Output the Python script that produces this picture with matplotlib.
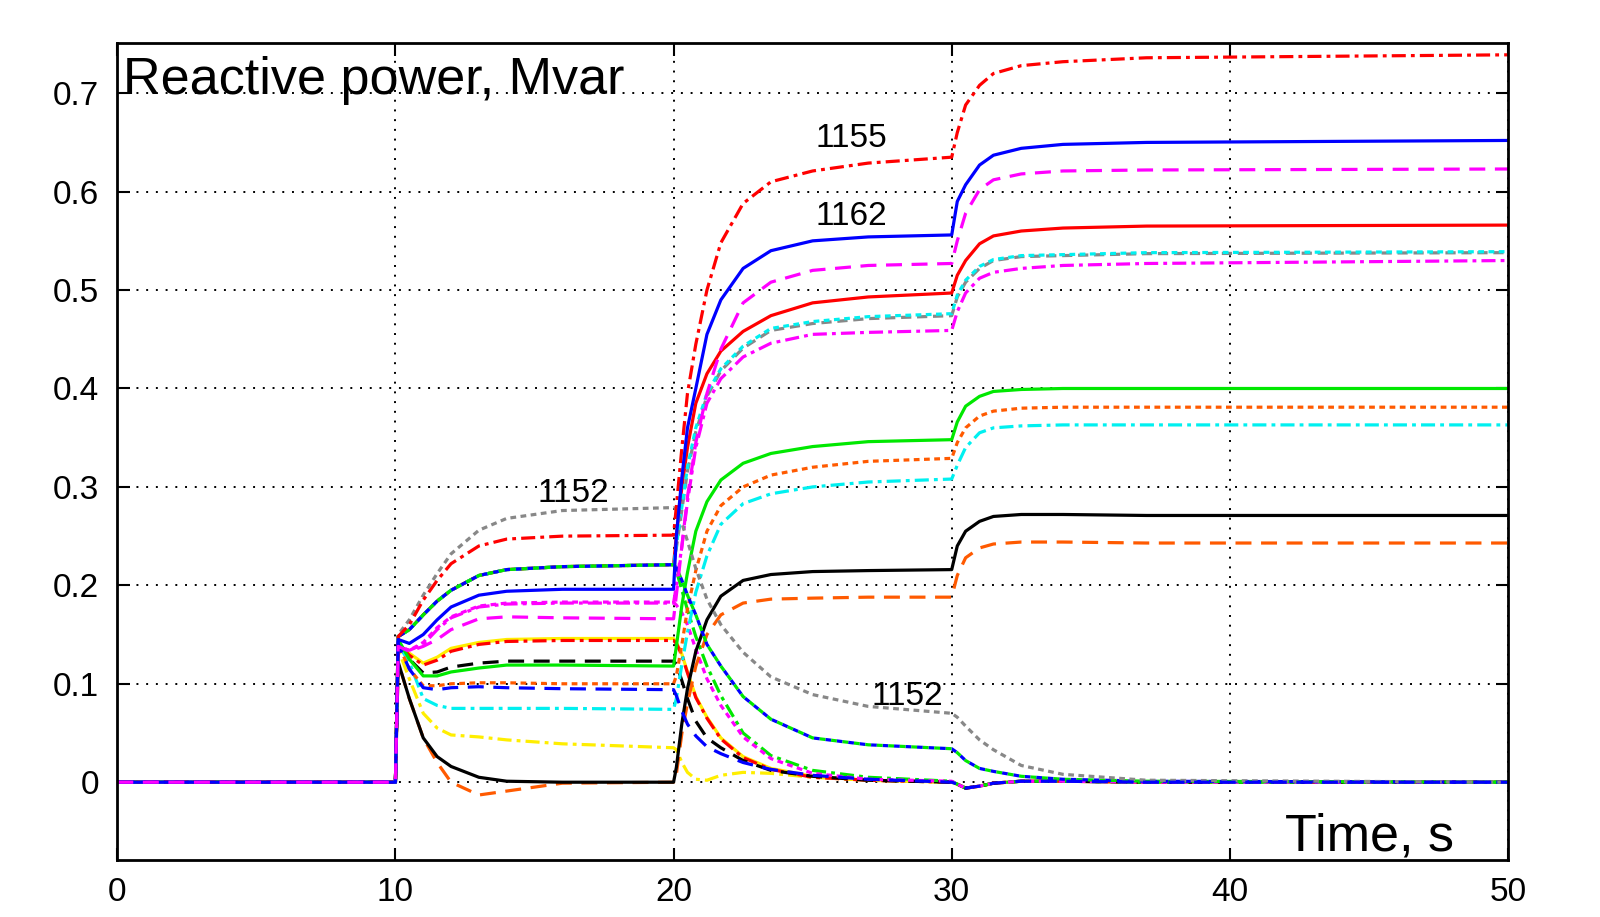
import matplotlib
matplotlib.use("Agg")
import matplotlib.pyplot as plt

plt.rcParams['font.family'] = ['Liberation Sans', 'DejaVu Sans']

# time grid, s
t = [0, 10, 10.1, 10.5, 11, 11.5, 12, 13, 14, 16, 20,
     20.1, 20.3, 20.5, 20.8, 21.2, 21.7, 22.5, 23.5, 25, 27, 30,
     30.2, 30.5, 31, 31.5, 32.5, 34, 37, 50]

# common pieces
cluster1 = [0, 0, 0.148, 0.155, 0.170, 0.184, 0.195, 0.210, 0.216, 0.219, 0.221]
tail_dip = [-0.002, -0.006, -0.004, -0.001, 0.001, 0.001, 0.0, 0.0]

# reactive power, Mvar
q_gray_dot = [0, 0, 0.150, 0.165, 0.190, 0.212, 0.232, 0.256, 0.268, 0.276, 0.279,
              0.277, 0.263, 0.245, 0.217, 0.186, 0.160, 0.132, 0.107, 0.089, 0.077, 0.070,
              0.066, 0.057, 0.043, 0.033, 0.017, 0.008, 0.002, 0.0]
q_red_dd = [0, 0, 0.148, 0.160, 0.185, 0.205, 0.222, 0.240, 0.247, 0.250, 0.251,
            0.280, 0.340, 0.395, 0.445, 0.500, 0.548, 0.588, 0.610, 0.621, 0.629, 0.635,
            0.660, 0.688, 0.708, 0.720, 0.728, 0.732, 0.736, 0.739]
q_blue = [0, 0, 0.145, 0.141, 0.150, 0.165, 0.178, 0.190, 0.194, 0.196, 0.196,
          0.250, 0.310, 0.360, 0.400, 0.455, 0.490, 0.522, 0.540, 0.550, 0.554, 0.556,
          0.590, 0.607, 0.627, 0.637, 0.644, 0.648, 0.650, 0.652]
q_mag_dash = [0, 0, 0.138, 0.133, 0.138, 0.145, 0.155, 0.166, 0.168, 0.167, 0.166,
              0.190, 0.240, 0.290, 0.345, 0.395, 0.440, 0.487, 0.508, 0.520, 0.525, 0.527,
              0.550, 0.578, 0.602, 0.612, 0.618, 0.621, 0.622, 0.623]
q_red = cluster1 + [0.250, 0.300, 0.340, 0.385, 0.415, 0.438, 0.458, 0.474, 0.487, 0.493, 0.497,
                    0.515, 0.530, 0.547, 0.555, 0.560, 0.563, 0.565, 0.566]
q_cyan_dash = cluster1 + [0.240, 0.280, 0.320, 0.360, 0.395, 0.420, 0.443, 0.461, 0.468, 0.473, 0.476,
                          0.495, 0.510, 0.524, 0.531, 0.535, 0.536, 0.538, 0.539]
q_gray_dash = cluster1 + [0.238, 0.277, 0.316, 0.356, 0.392, 0.418, 0.441, 0.459, 0.466, 0.471, 0.474,
                          0.493, 0.508, 0.522, 0.530, 0.534, 0.535, 0.537, 0.538]
q_mag_dd = [0, 0, 0.138, 0.134, 0.140, 0.155, 0.167, 0.178, 0.181, 0.182, 0.182,
            0.200, 0.240, 0.285, 0.340, 0.385, 0.410, 0.432, 0.446, 0.455, 0.457, 0.459,
            0.478, 0.497, 0.512, 0.518, 0.522, 0.525, 0.527, 0.530]
q_green = [0, 0, 0.145, 0.125, 0.108, 0.108, 0.112, 0.116, 0.119, 0.119, 0.118,
           0.138, 0.180, 0.213, 0.255, 0.285, 0.307, 0.324, 0.334, 0.341, 0.346, 0.348,
           0.366, 0.382, 0.392, 0.397, 0.399, 0.400, 0.400, 0.400]
q_orange_dot = [0, 0, 0.140, 0.115, 0.098, 0.098, 0.100, 0.101, 0.101, 0.100, 0.100,
                0.108, 0.140, 0.176, 0.215, 0.255, 0.281, 0.300, 0.312, 0.320, 0.326, 0.329,
                0.345, 0.360, 0.372, 0.377, 0.380, 0.381, 0.381, 0.381]
q_cyan_dd = [0, 0, 0.140, 0.122, 0.085, 0.078, 0.075, 0.075, 0.075, 0.075, 0.074,
             0.085, 0.120, 0.152, 0.193, 0.230, 0.262, 0.283, 0.293, 0.300, 0.305, 0.308,
             0.322, 0.340, 0.355, 0.360, 0.362, 0.363, 0.363, 0.363]
q_black = [0, 0, 0.122, 0.085, 0.045, 0.026, 0.016, 0.005, 0.001, 0.0, 0.0,
           0.015, 0.060, 0.095, 0.133, 0.165, 0.189, 0.205, 0.211, 0.214, 0.215, 0.216,
           0.240, 0.255, 0.265, 0.270, 0.272, 0.272, 0.271, 0.271]
q_orange_dash = [0, 0, 0.122, 0.085, 0.045, 0.020, 0.000, -0.013, -0.009, -0.001, 0.0,
                 0.008, 0.050, 0.080, 0.118, 0.150, 0.170, 0.182, 0.186, 0.187, 0.188, 0.188,
                 0.210, 0.228, 0.238, 0.242, 0.244, 0.244, 0.243, 0.243]
q_blue_dot = cluster1 + [0.218, 0.205, 0.190, 0.170, 0.140, 0.118, 0.087, 0.064, 0.045, 0.038, 0.034,
                         0.030, 0.022, 0.014, 0.011, 0.006, 0.003, 0.001, 0.0]
q_green_dash = list(q_blue_dot)
q_green_dd = cluster1 + [0.215, 0.195, 0.175, 0.148, 0.118, 0.088, 0.050, 0.027, 0.012, 0.005, 0.001] + tail_dip
q_mag_dot = [0, 0, 0.138, 0.134, 0.142, 0.157, 0.168, 0.179, 0.182, 0.183, 0.183,
             0.180, 0.172, 0.160, 0.135, 0.105, 0.078, 0.046, 0.024, 0.009, 0.003, 0.001] + tail_dip
q_yellow = [0, 0, 0.140, 0.131, 0.121, 0.127, 0.136, 0.142, 0.145, 0.146, 0.146,
            0.142, 0.130, 0.112, 0.087, 0.066, 0.045, 0.026, 0.014, 0.006, 0.002, 0.0] + tail_dip
q_red_dd2 = [0, 0, 0.140, 0.129, 0.119, 0.124, 0.133, 0.140, 0.143, 0.144, 0.144,
             0.141, 0.129, 0.111, 0.086, 0.065, 0.044, 0.025, 0.013, 0.005, 0.002, 0.0] + tail_dip
q_black_dash = [0, 0, 0.138, 0.125, 0.111, 0.112, 0.117, 0.121, 0.123, 0.123, 0.123,
                0.120, 0.103, 0.085, 0.062, 0.045, 0.035, 0.022, 0.012, 0.006, 0.002, 0.0] + tail_dip
q_blue_dash = [0, 0, 0.140, 0.115, 0.096, 0.094, 0.096, 0.097, 0.096, 0.095, 0.094,
               0.088, 0.072, 0.059, 0.047, 0.036, 0.029, 0.020, 0.013, 0.007, 0.003, 0.0] + tail_dip
q_yellow_dd = [0, 0, 0.135, 0.105, 0.070, 0.055, 0.048, 0.046, 0.043, 0.039, 0.035,
               0.033, 0.020, 0.010, 0.003, 0.002, 0.007, 0.010, 0.009, 0.005, 0.002, 0.0] + tail_dip

xticks = [0, 10, 20, 30, 40, 50]
yticks = [0, 0.1, 0.2, 0.3, 0.4, 0.5, 0.6, 0.7]
ytick_labels = ['0', '0.1', '0.2', '0.3', '0.4', '0.5', '0.6', '0.7']

RED, BLUE, MAG, GREEN = '#ff0000', '#0000ff', '#ff00ff', '#00e800'
CYAN, GRAY, ORANGE, YELLOW = '#00f0f0', '#888888', '#ff5a00', '#ffee00'

# dash patterns (in line-width units)
dot = (0, (1.8, 1.4))
dash = (0, (5.0, 3.0))
mdash = (0, (3.2, 1.8))
dd = (0, (4.4, 1.6, 1.2, 1.6))

lines = [
    (q_yellow_dd, YELLOW, dd),
    (q_yellow, YELLOW, '-'),
    (q_red_dd2, RED, dd),
    (q_black_dash, 'black', dash),
    (q_green_dd, GREEN, dd),
    (q_mag_dot, MAG, dot),
    (q_orange_dash, ORANGE, dash),
    (q_black, 'black', '-'),
    (q_cyan_dd, CYAN, dd),
    (q_orange_dot, ORANGE, dot),
    (q_green, GREEN, '-'),
    (q_red, RED, '-'),
    (q_gray_dash, GRAY, mdash),
    (q_cyan_dash, CYAN, dot),
    (q_mag_dd, MAG, dd),
    (q_blue_dot, BLUE, (0, (1.8, 1.8))),
    (q_green_dash, GREEN, (1.8, (1.8, 1.8))),
    (q_gray_dot, GRAY, dot),
    (q_red_dd, RED, dd),
    (q_blue, BLUE, '-'),
    (q_blue_dash, BLUE, dash),
    (q_mag_dash, MAG, dash),
]

fig = plt.figure(figsize=(16, 9.17), dpi=100, facecolor='white')
ax = fig.add_axes([0.0733, 0.0622, 0.8692, 0.8909])

for q, c, ls in lines:
    ax.plot(t, q, color=c, linestyle=ls, linewidth=2.3)

ax.set_xlim(0, 50)
ax.set_ylim(-0.079, 0.751)
ax.set_xticks(xticks)
ax.set_xticklabels([str(v) for v in xticks])
ax.set_yticks(yticks)
ax.set_yticklabels(ytick_labels)
ax.grid(True, color='black', linestyle=(0, (1, 4)), linewidth=1.4)
ax.tick_params(direction='in', length=9, width=1.5, top=True, right=True,
               labelsize=24, colors='black')
ax.tick_params(axis='x', pad=12)
ax.tick_params(axis='y', pad=13)
for s in ax.spines.values():
    s.set_linewidth(2.0)

ax.text(0.004, 0.938, 'Reactive power, Mvar', transform=ax.transAxes,
        fontsize=37.5, ha='left', va='baseline')
ax.text(0.961, 0.012, 'Time, s', transform=ax.transAxes,
        fontsize=37.5, ha='right', va='baseline')

ax.text(26.4, 0.654, '1155', fontsize=24, ha='center', va='center')
ax.text(26.4, 0.575, '1162', fontsize=24, ha='center', va='center')
ax.text(16.4, 0.293, '1152', fontsize=24, ha='center', va='center')
ax.text(28.4, 0.087, '1152', fontsize=24, ha='center', va='center')

fig.savefig('out.png', dpi=100, facecolor='white')
